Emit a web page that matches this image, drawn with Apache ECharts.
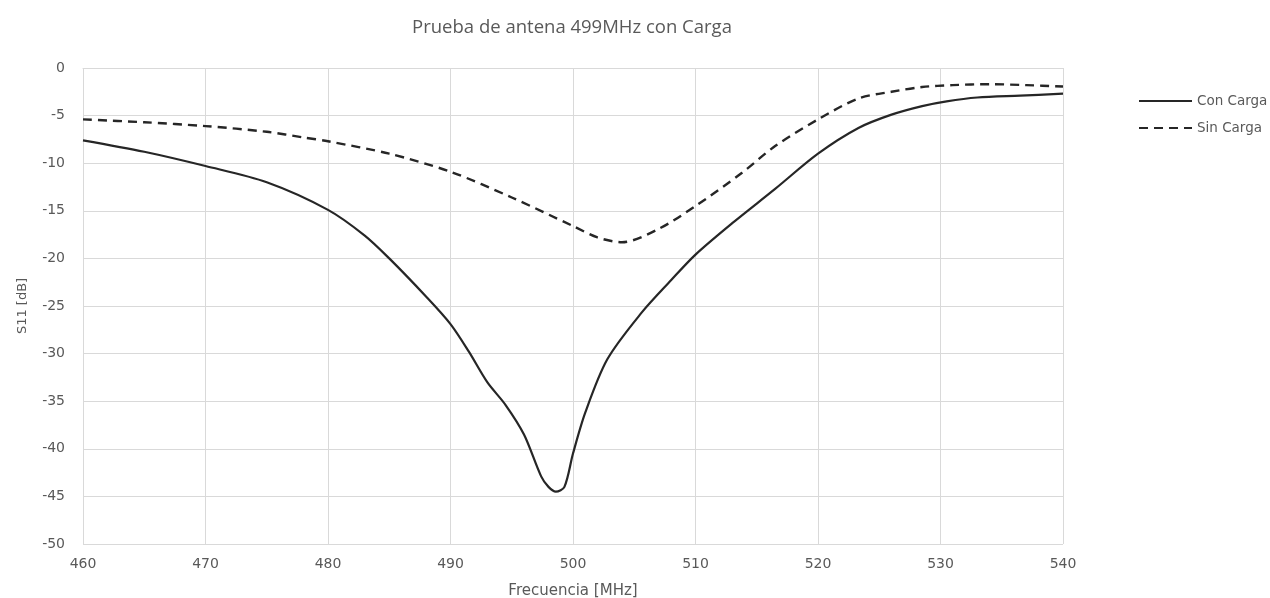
<!DOCTYPE html>
<html>
<head>
<meta charset="utf-8">
<script src="https://cdn.jsdelivr.net/npm/echarts@6/dist/echarts.min.js"></script>
<style>
  html, body { margin: 0; padding: 0; background: #ffffff; }
  #chart { width: 1270px; height: 598px; }
</style>
</head>
<body>
<div id="chart"></div>
<script>
// Frequency sweep points (MHz) and measured S11 (dB) for each configuration
const freqConCarga = [460, 465, 470, 475, 480, 483, 485, 488, 490, 491.5, 493, 494.5, 496, 497.4, 498, 498.6, 499.3, 500, 501, 502.8, 505.6, 508, 510, 513, 516.5, 520, 523.3, 526, 528.5, 530.5, 533, 536.5, 540];
const s11ConCarga  = [-7.6, -8.8, -10.3, -12.0, -14.9, -17.6, -20.0, -24.0, -26.9, -29.8, -33.0, -35.4, -38.5, -42.9, -44.0, -44.5, -44.0, -40.5, -36.2, -30.6, -25.7, -22.3, -19.6, -16.3, -12.7, -9.0, -6.3, -4.9, -4.0, -3.5, -3.1, -2.9, -2.7];

const freqSinCarga = [460, 465, 470, 475, 478, 480, 485, 490, 495, 500, 502, 504, 507, 510, 513.8, 516.5, 520, 523.3, 526, 528.5, 531, 534, 537, 540];
const s11SinCarga  = [-5.4, -5.7, -6.1, -6.7, -7.3, -7.7, -9.0, -10.9, -13.6, -16.6, -17.8, -18.3, -16.9, -14.5, -11.0, -8.2, -5.4, -3.2, -2.5, -2.0, -1.8, -1.7, -1.8, -1.95];

const xTicks = [460, 470, 480, 490, 500, 510, 520, 530, 540];
const yTicks = [0, -5, -10, -15, -20, -25, -30, -35, -40, -45, -50];

const pairs = (xs, ys) => xs.map((x, i) => [x, ys[i]]);

const textColor = '#595959';
const gridColor = '#d9d9d9';
const lineColor = '#262626';
const titleFont = '"Open Sans", "Noto Sans", sans-serif';
const font = '"DejaVu Sans", "Noto Sans", sans-serif';

const chart = echarts.init(document.getElementById('chart'));
chart.setOption({
  animation: false,
  backgroundColor: '#ffffff',
  textStyle: { fontFamily: font },
  title: {
    text: 'Prueba de antena 499MHz con Carga',
    left: 567,
    textAlign: 'center',
    top: 13,
    textStyle: { fontFamily: titleFont, fontSize: 18.5, fontWeight: 'normal', color: textColor }
  },
  legend: {
    orient: 'vertical',
    left: 1133,
    top: 89,
    itemWidth: 53,
    itemHeight: 14,
    itemGap: 13,
    // legend keys show only the line stroke
    itemStyle: { opacity: 0 },
    textStyle: { fontFamily: font, fontSize: 13.5, color: textColor },
    data: ['Con Carga', 'Sin Carga']
  },
  grid: { left: 83, right: 207, top: 68, bottom: 54, containLabel: false, outerBoundsMode: 'none' },
  xAxis: {
    type: 'value',
    min: xTicks[0],
    max: xTicks[xTicks.length - 1],
    interval: 10,
    name: 'Frecuencia [MHz]',
    nameLocation: 'middle',
    nameGap: 40,
    nameTextStyle: { fontFamily: font, fontSize: 15, color: textColor },
    axisLine: { lineStyle: { color: gridColor, width: 1 } },
    axisTick: { show: false },
    axisLabel: { fontFamily: font, fontSize: 14, color: textColor, margin: 13 },
    splitLine: { show: true, lineStyle: { color: gridColor, width: 1 } }
  },
  yAxis: {
    type: 'value',
    min: yTicks[yTicks.length - 1],
    max: yTicks[0],
    interval: 5,
    name: 'S11 [dB]',
    nameLocation: 'middle',
    nameGap: 54,
    nameTextStyle: { fontFamily: font, fontSize: 13, color: textColor },
    axisLine: { show: false },
    axisTick: { show: false },
    axisLabel: { fontFamily: font, fontSize: 14, color: textColor, margin: 18 },
    splitLine: { show: true, lineStyle: { color: gridColor, width: 1 } }
  },
  series: [
    {
      name: 'Con Carga',
      type: 'line',
      smooth: 0.3,
      symbol: 'none',
      data: pairs(freqConCarga, s11ConCarga),
      lineStyle: { color: lineColor, width: 2.2, type: 'solid' },
      itemStyle: { color: lineColor }
    },
    {
      name: 'Sin Carga',
      type: 'line',
      smooth: 0.3,
      symbol: 'none',
      data: pairs(freqSinCarga, s11SinCarga),
      lineStyle: { color: lineColor, width: 2.4, type: [9, 6] },
      itemStyle: { color: lineColor }
    }
  ]
});
</script>
</body>
</html>
